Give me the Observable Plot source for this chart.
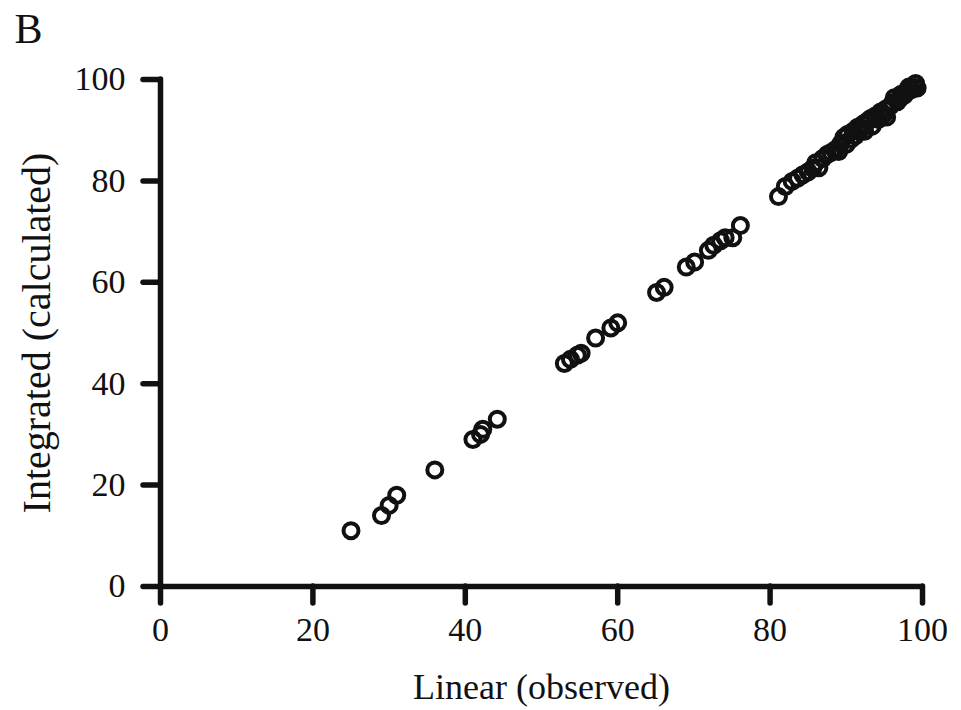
<!DOCTYPE html>
<html>
<head>
<meta charset="utf-8">
<script src="https://cdn.jsdelivr.net/npm/d3@7"></script>
<script src="https://cdn.jsdelivr.net/npm/@observablehq/plot@0.6"></script>
<style>
  html, body { margin: 0; padding: 0; background: #fff; }
  #chart svg { display: block; }
</style>
</head>
<body>
<div id="chart"></div>
<script>
// Linear (observed) vs Integrated (calculated) values
const linear = [
  25, 29, 30, 31, 36, 41, 42, 42.3, 44.2,
  53, 53.8, 54.7, 55.2, 57.1, 59.1, 60,
  65.1, 66.1, 69, 70.1, 71.9, 72.6, 73.5, 74.1, 75.1, 76.1,
  81.1, 82, 82.9, 83.6, 84.3, 85, 85.6, 86, 86.4, 86.9, 87.5, 88, 88.6, 89,
  89.3, 89.7, 90, 90.2, 90.6, 90.9, 91.2, 91.5, 91.8, 92.2, 92.4, 92.8,
  93.2, 93.4, 93.8, 94.2, 94.5, 94.9, 95.2, 95.3, 95.8, 96.1, 96.3, 96.7,
  97, 97.2, 97.6, 98, 98.2, 98.6, 99, 99.1, 99.3
];
const integrated = [
  11, 14, 16, 18, 23, 29, 30, 31, 33,
  44, 44.8, 45.6, 46, 49, 51, 52,
  58, 59, 63, 64, 66.3, 67.3, 68.2, 68.8, 68.8, 71.2,
  76.9, 78.9, 79.9, 80.5, 81.2, 81.8, 82.5, 83.6, 82.6, 84.4, 85.2, 85.6, 86.2, 85.8,
  87.4, 88.6, 87.2, 89.2, 88.2, 89.8, 88.9, 90.6, 90, 91.2, 89.8, 91.8,
  92.3, 90.8, 92.8, 92.1, 93.6, 93.1, 94.2, 92.6, 94.8, 95.4, 96.4, 95.6,
  96.2, 97.1, 96.9, 97.6, 98.5, 98, 98.4, 99.2, 98.3
];
const xTicks = [0, 20, 40, 60, 80, 100];
const yTicks = [0, 20, 40, 60, 80, 100];
const panelLabel = "B";
const xTitle = "Linear (observed)";
const yTitle = "Integrated (calculated)";

const points = linear.map((x, i) => ({x, y: integrated[i]}));

const font = "'Liberation Serif', 'DejaVu Serif', serif";

const chart = Plot.plot({
  width: 961,
  height: 710,
  marginLeft: 160,
  marginRight: 39,
  marginTop: 79,
  marginBottom: 124,
  style: {fontFamily: font, background: "#fff", color: "#111"},
  x: {domain: [0, 100]},
  y: {domain: [0, 100]},
  marks: [
    Plot.axisX({
      ticks: xTicks, tickSize: 17, tickPadding: 13, strokeWidth: 5.5,
      strokeLinecap: "round", fontSize: 34, label: null, stroke: "#111", fill: "#111"
    }),
    Plot.axisY({
      ticks: yTicks, tickSize: 17, tickPadding: 18, strokeWidth: 5.5,
      strokeLinecap: "round", fontSize: 34, label: null, stroke: "#111", fill: "#111"
    }),
    Plot.ruleY([0], {stroke: "#111", strokeWidth: 5.5, strokeLinecap: "round"}),
    Plot.ruleX([0], {stroke: "#111", strokeWidth: 5.5, strokeLinecap: "round"}),
    Plot.dot(points, {
      x: "x", y: "y", r: 7.5, fill: "none", stroke: "#111", strokeWidth: 4
    }),
    Plot.text([xTitle], {
      frameAnchor: "bottom", dy: 112, fontSize: 36, fill: "#111", text: d => d
    }),
    Plot.text([yTitle], {
      frameAnchor: "left", dx: -123, rotate: -90, textAnchor: "middle",
      fontSize: 40, fill: "#111", text: d => d
    }),
    Plot.text([panelLabel], {
      frameAnchor: "top-left", dx: -132, dy: -66, fontSize: 42, fill: "#111",
      textAnchor: "middle", text: d => d
    })
  ]
});

document.getElementById("chart").append(chart);
</script>
</body>
</html>
